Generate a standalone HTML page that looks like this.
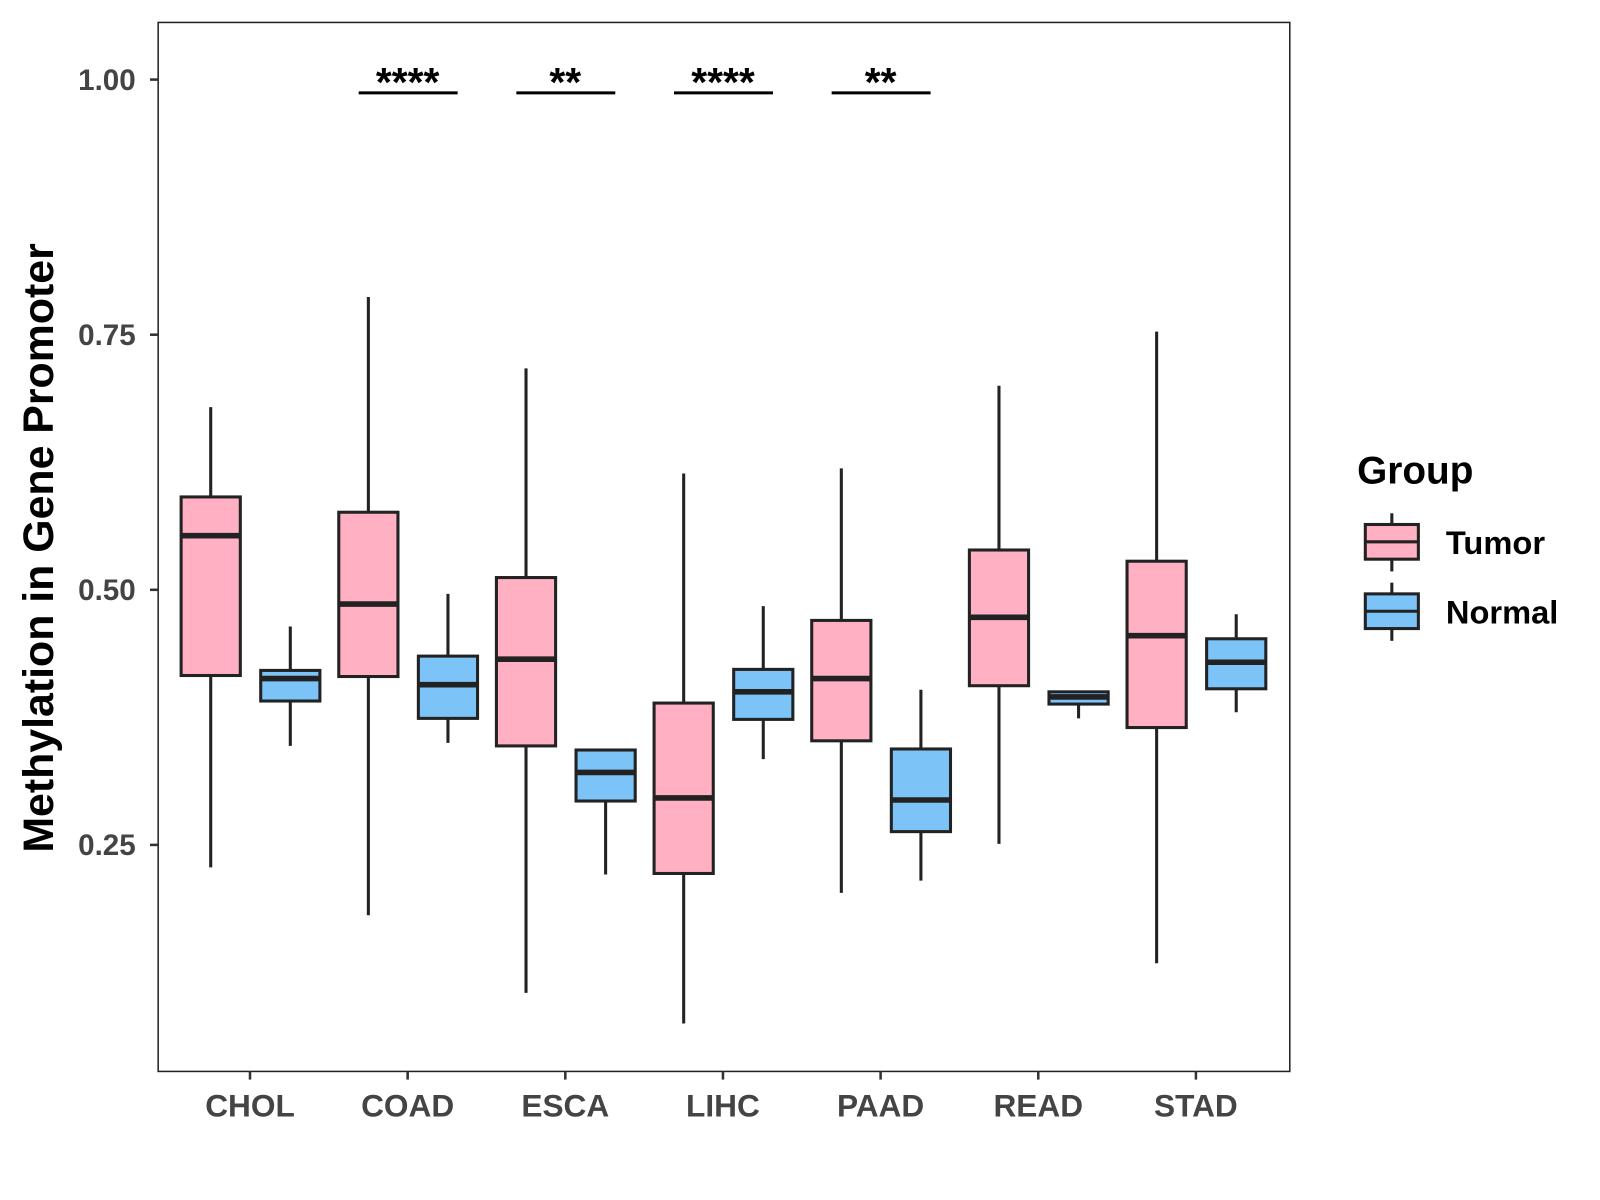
<!DOCTYPE html>
<html><head><meta charset="utf-8"><style>
html,body{margin:0;padding:0;background:#fff}
svg{display:block}
text{font-family:"Liberation Sans",Arial,sans-serif;font-weight:bold}
</style></head><body>
<svg id="chart" width="1600" height="1200" viewBox="0 0 1568 1176" xmlns="http://www.w3.org/2000/svg">
<rect x="0" y="0" width="1568" height="1176" fill="#fff"/>
<g id="marks"></g>
<rect x="155" y="22" width="1109" height="1028" fill="none" stroke="#222" stroke-width="1.5"/>
<g id="axes"></g>
<text transform="translate(52,537) rotate(-90)" text-anchor="middle" font-size="42" fill="#000">Methylation in Gene Promoter</text>
<g>
<text x="1330" y="474" font-size="38" fill="#000">Group</text>
<g>
<line x1="1364" y1="503" x2="1364" y2="560" stroke="#222" stroke-width="3"/>
<rect x="1338" y="514" width="52" height="34" fill="#FFB0C2" stroke="#222" stroke-width="3"/>
<line x1="1338" y1="531" x2="1390" y2="531" stroke="#222" stroke-width="3"/>
<text x="1417" y="543" font-size="32" fill="#000">Tumor</text>
</g>
<g>
<line x1="1364" y1="571" x2="1364" y2="628" stroke="#222" stroke-width="3"/>
<rect x="1338" y="582" width="52" height="34" fill="#7CC4F8" stroke="#222" stroke-width="3"/>
<line x1="1338" y1="599" x2="1390" y2="599" stroke="#222" stroke-width="3"/>
<text x="1417" y="611" font-size="32" fill="#000">Normal</text>
</g>
</g>
</svg>
<script>
const categories = ["CHOL","COAD","ESCA","LIHC","PAAD","READ","STAD"];
// [whiskerLow, q1, median, q3, whiskerHigh]
const tumorStats = [
 [0.228,0.416,0.553,0.591,0.679],
 [0.181,0.415,0.486,0.576,0.787],
 [0.105,0.347,0.432,0.512,0.717],
 [0.075,0.222,0.296,0.389,0.614],
 [0.203,0.352,0.413,0.470,0.619],
 [0.251,0.406,0.473,0.539,0.700],
 [0.134,0.365,0.455,0.528,0.753]
];
const normalStats = [
 [0.347,0.391,0.413,0.421,0.464],
 [0.350,0.374,0.407,0.435,0.496],
 [0.221,0.293,0.321,0.343,0.344],
 [0.334,0.373,0.400,0.422,0.484],
 [0.215,0.263,0.294,0.344,0.402],
 [0.374,0.388,0.395,0.400,0.400],
 [0.380,0.403,0.429,0.452,0.476]
];
const yTicks = [0.25,0.50,0.75,1.00];
const yTickLabels = ["0.25","0.50","0.75","1.00"];
const sigCategories = ["COAD","ESCA","LIHC","PAAD"];
const sigLabels = ["****","**","****","**"];
const sigLevel = 0.987;

const NS="http://www.w3.org/2000/svg";
function y(v){return 78+(1-v)*1000;}
function x(c){return 245+categories.indexOf(c)*154.5;}
function mk(tag,attrs,parent){const e=document.createElementNS(NS,tag);for(const k in attrs)e.setAttribute(k,attrs[k]);parent.appendChild(e);return e;}
const marks=document.getElementById('marks');
const axes=document.getElementById('axes');
const W=58;
function drawBox(s,cx,fill,name){
 const g=mk('g',{},marks);
 
 
 mk('line',{x1:cx,x2:cx,y1:y(s[0]),y2:y(s[4]),stroke:'#222','stroke-width':3},g);
 mk('rect',{x:cx-W/2,y:y(s[3]),width:W,height:Math.max(1,y(s[1])-y(s[3])),fill:fill,stroke:'#222','stroke-width':3},g);
 mk('line',{x1:cx-W/2,x2:cx+W/2,y1:y(s[2]),y2:y(s[2]),stroke:'#222','stroke-width':5.5},g);
}
categories.forEach((c,i)=>{
 drawBox(tumorStats[i],x(c)-38.5,'#FFB0C2','box-tumor-'+c.toLowerCase());
 drawBox(normalStats[i],x(c)+39.5,'#7CC4F8','box-normal-'+c.toLowerCase());
 mk('line',{x1:x(c),x2:x(c),y1:1050,y2:1058,stroke:'#333','stroke-width':2.5},axes);
 const t=mk('text',{x:x(c),y:1094,'text-anchor':'middle','font-size':31,fill:'#444'},axes);
 
 
 t.textContent=c;
});
yTicks.forEach((v,i)=>{
 mk('line',{x1:147,x2:155,y1:y(v),y2:y(v),stroke:'#333','stroke-width':2.5},axes);
 const t=mk('text',{x:133,y:y(v)+10,'text-anchor':'end','font-size':29,fill:'#444'},axes);
 
 
 t.textContent=yTickLabels[i];
});
sigCategories.forEach((c,i)=>{
 const g=mk('g',{},marks);
 
 
 mk('line',{x1:x(c)-48,x2:x(c)+49,y1:y(sigLevel),y2:y(sigLevel),stroke:'#000','stroke-width':3},g);
 const t=mk('text',{x:x(c),y:y(sigLevel)+3,'text-anchor':'middle','font-size':40,fill:'#000'},g);
 t.textContent=sigLabels[i];
});
</script>
</body></html>
